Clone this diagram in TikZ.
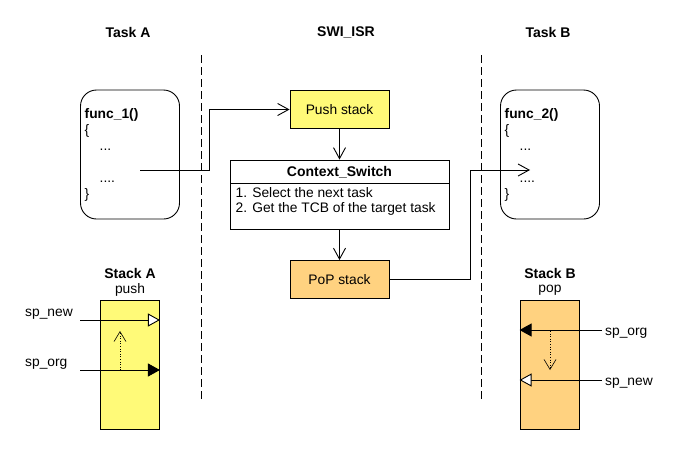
\documentclass[tikz,border=0pt]{standalone}
\usepackage{fontspec}
\setmainfont{Liberation Sans}
\usetikzlibrary{arrows.meta,calc}
\definecolor{yel}{RGB}{255,250,120}
\definecolor{org}{RGB}{255,210,128}
\begin{document}
\begin{tikzpicture}[x=1pt,y=-1pt,
  every node/.style={font=\fontsize{13.8}{16}\selectfont},
  ttl/.style={font=\fontsize{14}{16}\selectfont\bfseries},
  ln/.style={line width=0.9pt},
  sep/.style={line width=0.9pt, dash pattern=on 8pt off 4pt},
  codebox/.style={draw, line width=0.9pt, rounded corners=16pt, minimum width=99pt, minimum height=129pt, inner sep=0pt},
  stepbox/.style={draw, line width=0.9pt, minimum width=99pt, minimum height=38pt, inner sep=0pt},
  stackbox/.style={draw, line width=0.9pt, minimum width=59pt, minimum height=129pt, inner sep=0pt},
  codetxt/.style={align=left, anchor=north west, inner sep=0pt},
  flow/.style={ln, -{Straight Barb[length=11pt,width=12pt]}},
  spfull/.style={ln, -{Triangle[length=12pt,width=13pt]}},
  spopen/.style={ln, -{Triangle[fill=white,length=12pt,width=13pt]}},
  spmove/.style={line width=0.6pt, dotted, -{Straight Barb[length=10pt,width=12pt]}}
]
\useasboundingbox (0,0) rectangle (680,450);

% titles
\node[ttl] (tA) at (128,32) {Task A};
\node[ttl] (tS) at (346,32) {SWI\_ISR};
\node[ttl] (tB) at (548,32) {Task B};

% separators
\draw[sep] (201,55) -- (201,400);
\draw[sep] (481,55) -- (481,400);

% func_1
\node[codebox] (f1) at (130,154.5) {};
\node[codetxt] (f1t) at (84.5,108.5) {\textbf{func\_1()}\\\{\\\hspace{15pt}...\\[16pt]\hspace{15pt}....\\\}};
\coordinate (c1) at (140,170);

% func_2
\node[codebox] (f2) at (550,154.5) {};
\node[codetxt] (f2t) at (504.5,108.5) {\textbf{func\_2()}\\\{\\\hspace{15pt}...\\[16pt]\hspace{15pt}....\\\}};
\coordinate (c2) at (530,170);

% SWI_ISR
\node[stepbox, fill=yel] (push) at (339.5,109.5) {Push stack};
\node[draw, line width=0.9pt, minimum width=219pt, minimum height=69pt, inner sep=0pt] (cs) at (339.5,194.5) {};
\draw[ln] (230,183) -- (449,183);
\node[ttl] (cst) at (339.5,172) {Context\_Switch};
\node[align=left, anchor=north west, inner sep=0pt] (csb) at (235.5,187) {1. Select the next task\\[-1pt]2. Get the TCB of the target task};
\node[stepbox, fill=org] (pop) at (339.5,279.5) {PoP stack};

\draw[flow] (c1) -| ([xshift=-80pt]push.west) -- (push.west);
\draw[flow] (push.south) -- (cs.north);
\draw[flow] (cs.south) -- (pop.north);
\draw[flow] (pop.east) -| ([xshift=-60pt]c2) -- (c2);

% Stack A
\node[ttl] (sAt) at (130,273) {Stack A};
\node (sAp) at (130,290) {push};
\node[stackbox, fill=yel] (sA) at (130,364.5) {};
\coordinate (sAn) at (80,320);
\coordinate (sAo) at (80,370);
\node[anchor=west, inner sep=0pt] (lAn) at (25,314) {sp\_new};
\node[anchor=west, inner sep=0pt] (lAo) at (25,364) {sp\_org};
\draw[spopen] (sAn) -- (sAn -| sA.east);
\draw[spfull] (sAo) -- (sAo -| sA.east);
\coordinate (gA1) at (120,370);
\coordinate (gA2) at (120,331);
\draw[spmove] (gA1) -- (gA2);

% Stack B
\node[ttl] (sBt) at (550,273) {Stack B};
\node (sBp) at (550,290) {pop};
\node[stackbox, fill=org] (sB) at (549.5,364.5) {};
\coordinate (sBo) at (602,330);
\coordinate (sBn) at (602,380);
\node[anchor=west, inner sep=0pt] (lBo) at (605,333) {sp\_org};
\node[anchor=west, inner sep=0pt] (lBn) at (605,383) {sp\_new};
\draw[spfull] (sBo) -- (sBo -| sB.west);
\draw[spopen] (sBn) -- (sBn -| sB.west);
\coordinate (gB1) at (550,331);
\coordinate (gB2) at (550,370);
\draw[spmove] (gB1) -- (gB2);
\end{tikzpicture}
\end{document}
